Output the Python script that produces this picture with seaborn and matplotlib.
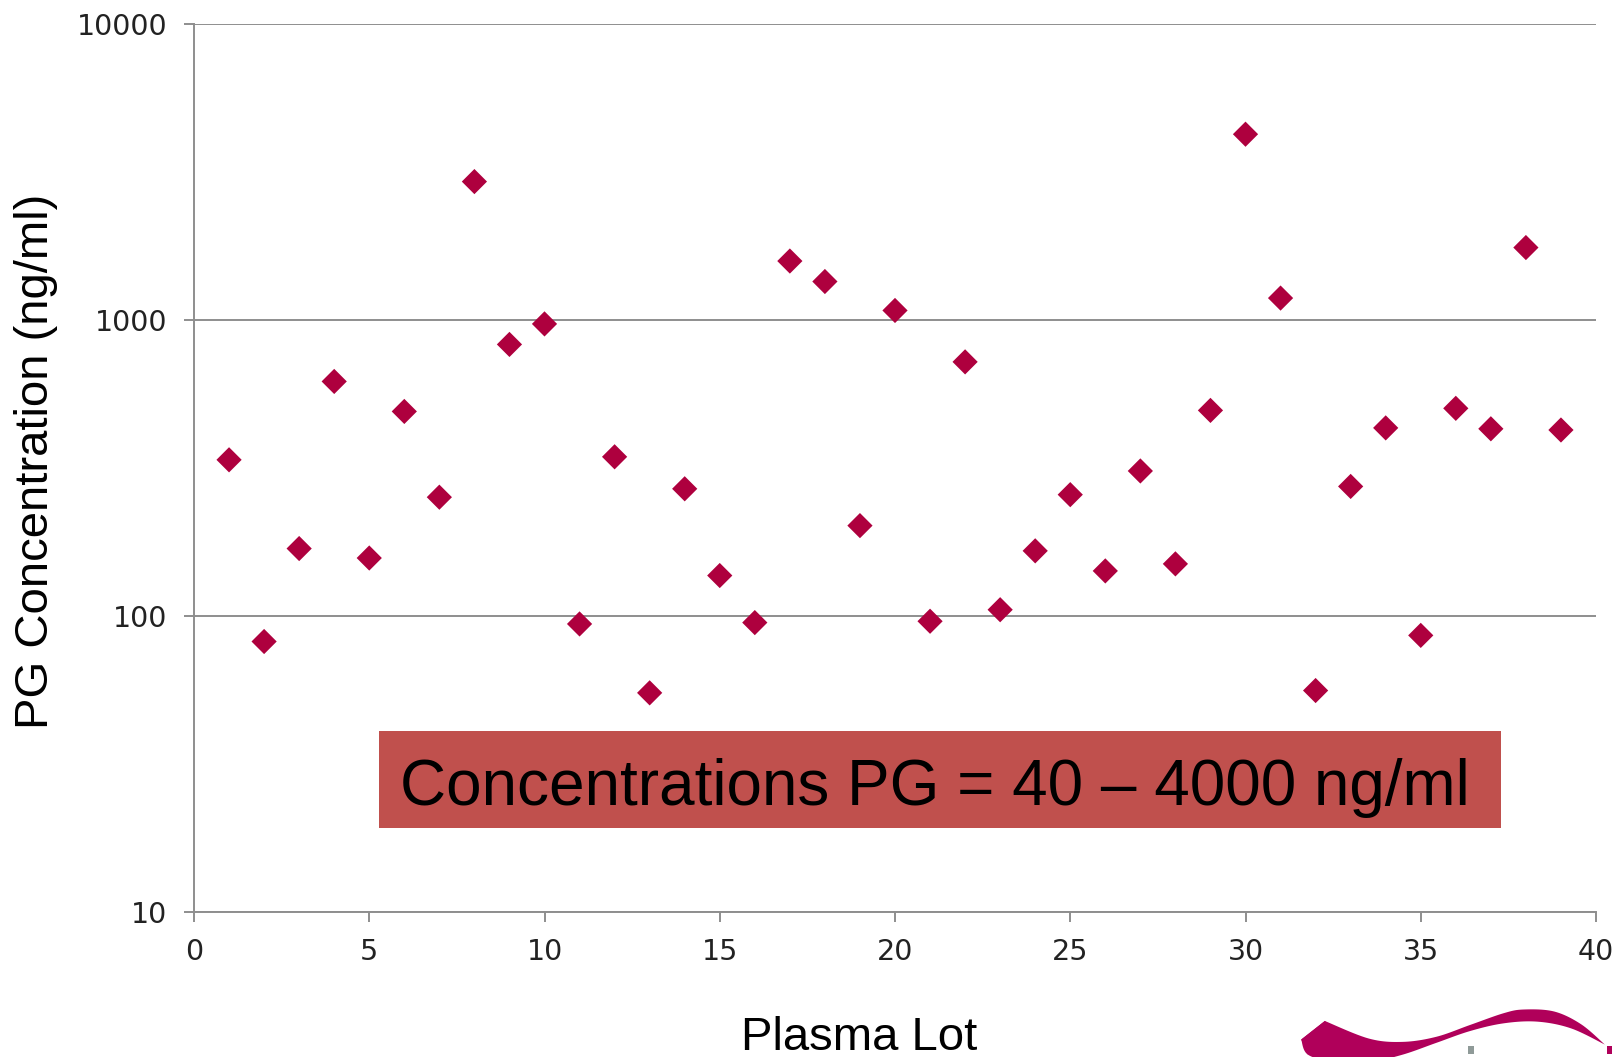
import numpy as np
import pandas as pd
import matplotlib
matplotlib.use("Agg")
import matplotlib.pyplot as plt
from matplotlib.patches import Rectangle, Polygon
import seaborn as sns

# ---- data ----
plasma_lot = list(range(1, 40))
pg_conc = [337, 82, 169, 620, 157, 491, 252, 2935, 827, 970,
           94, 345, 55, 269, 137, 95, 1582, 1349, 202, 1077,
           96, 722, 105, 166, 257, 142, 309, 150, 495, 4243,
           1186, 56, 274, 432, 86, 503, 429, 1757, 425]
x_ticks = [0, 5, 10, 15, 20, 25, 30, 35, 40]
y_ticks = [10, 100, 1000, 10000]
y_tick_labels = ["10", "100", "1000", "10000"]
x_label = "Plasma Lot"
y_label = "PG Concentration (ng/ml)"
note_text = "Concentrations PG = 40 \u2013 4000 ng/ml"

df = pd.DataFrame({"lot": plasma_lot, "conc": pg_conc})

sns.set_theme(style="white")
plt.rcParams["font.family"] = ["DejaVu Sans"]

W, H = 1618, 1057
fig = plt.figure(figsize=(W / 100, H / 100), dpi=100)
ax = fig.add_axes([194 / W, 1 - 912 / H, (1596 - 194) / W, (912 - 24) / H])

sns.scatterplot(data=df, x="lot", y="conc", marker="D", s=165,
                color="#AE003E", edgecolor="none", linewidth=0, ax=ax, zorder=3)

ax.set_yscale("log")
ax.set_xlim(0, 40)
ax.set_ylim(10, 10000)
ax.set_xticks(x_ticks)
ax.set_yticks(y_ticks)
ax.set_yticklabels(y_tick_labels)
ax.yaxis.set_minor_locator(matplotlib.ticker.NullLocator())
ax.set_xlabel("")
ax.set_ylabel("")

grid_c = "#8E8E8E"
ax.grid(axis="y", which="major", color=grid_c, linewidth=1.4)
ax.set_axisbelow(True)
for side in ["top", "right"]:
    ax.spines[side].set_visible(False)
for side in ["left", "bottom"]:
    ax.spines[side].set_color(grid_c)
    ax.spines[side].set_linewidth(1.4)
ax.tick_params(axis="both", which="major", direction="out", length=7, width=1.4,
               color=grid_c, labelsize=20.5, labelcolor="#222222", pad=12,
               left=True, bottom=True)

# axis titles
fig.text(36 / W, 1 - 461 / H, y_label, rotation=90, ha="center", va="center",
         fontsize=34, family=["Liberation Sans", "DejaVu Sans"], color="black")
fig.text(859 / W, 1 - 1050 / H, x_label, ha="center", va="baseline",
         fontsize=34, family=["Liberation Sans", "DejaVu Sans"], color="black")

# annotation box
fig.patches.append(Rectangle((379 / W, 1 - 828 / H), (1501 - 379) / W, (828 - 731) / H,
                             transform=fig.transFigure, facecolor="#C0504D",
                             edgecolor="none", zorder=5))
fig.text(935 / W, 1 - 805 / H, note_text, ha="center", va="baseline",
         fontsize=46, family=["Liberation Sans Narrow", "Liberation Sans", "DejaVu Sans"],
         color="black", zorder=6)

# logo swoosh (decorative, bottom right)
def catmull(points, n=12):
    p = np.asarray(points, float)
    p = np.vstack([p[0], p, p[-1]])
    out = []
    for i in range(1, len(p) - 2):
        p0, p1, p2, p3 = p[i - 1], p[i], p[i + 1], p[i + 2]
        for t in np.linspace(0, 1, n, endpoint=False):
            t2, t3 = t * t, t * t * t
            out.append(0.5 * ((2 * p1) + (-p0 + p2) * t +
                              (2 * p0 - 5 * p1 + 4 * p2 - p3) * t2 +
                              (-p0 + 3 * p1 - 3 * p2 + p3) * t3))
    out.append(p[-2])
    return np.array(out)

def to_fig(arr):
    arr = np.asarray(arr, float)
    return np.column_stack(((1200 + arr[:, 0] / 2.964) / W,
                            1 - (940 + arr[:, 1] / 2.964) / H))

upper = [(370, 240), (500, 292), (600, 302), (700, 287), (800, 252),
         (900, 217), (960, 206), (1050, 212), (1130, 250), (1200, 310)]
lower = [(1200, 310), (1100, 262), (1000, 242), (900, 247), (800, 270),
         (700, 305), (600, 340), (500, 362), (400, 362), (320, 340), (300, 295)]
outline = np.vstack([catmull(upper), catmull(lower)])
fig.patches.append(Polygon(to_fig(outline), closed=True, transform=fig.transFigure,
                           facecolor="#B0005A", edgecolor="none"))
fig.patches.append(Polygon(to_fig([(300, 295), (370, 240), (380, 250), (320, 340)]),
                           closed=True, transform=fig.transFigure,
                           facecolor="#B0005A", edgecolor="none"))
fig.patches.append(Rectangle(tuple(to_fig([(795, 337)])[0]), 6 / W, 8 / H,
                             transform=fig.transFigure,
                             facecolor="#8F9A98", edgecolor="none"))
fig.patches.append(Rectangle(tuple(to_fig([(1205, 337)])[0]), 5 / W, 8 / H,
                             transform=fig.transFigure,
                             facecolor="#B0005A", edgecolor="none"))

fig.savefig("out.png", dpi=100)
